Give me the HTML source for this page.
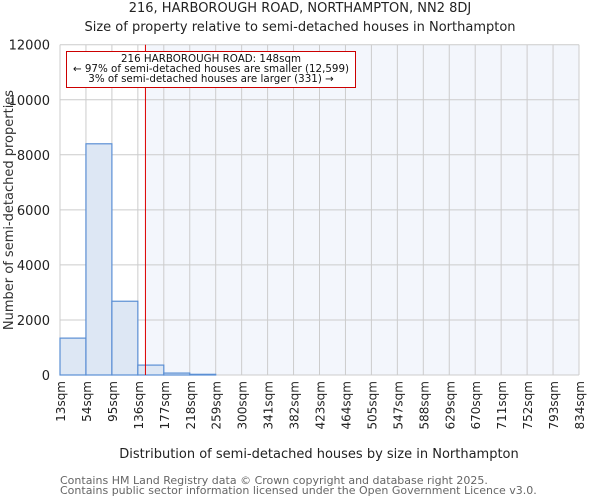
<!DOCTYPE html>
<html><head><meta charset="utf-8"><style>
body{margin:0;background:#fff;font-family:"DejaVu Sans","Liberation Sans",sans-serif;}
</style></head><body>
<svg width="600" height="500" viewBox="0 0 600 500" xmlns="http://www.w3.org/2000/svg" font-family="DejaVu Sans, Liberation Sans, sans-serif">
<g id="g"></g>
</svg>
<script>
const edges=[13,54,95,136,177,218,259,300,341,382,423,464,505,547,588,629,670,711,752,793,834];
const counts=[1340,8400,2680,360,70,25,0,0,0,0,0,0,0,0,0,0,0,0,0,0];
const yTicks=[0,2000,4000,6000,8000,10000,12000];
const propSize=148;
const NS='http://www.w3.org/2000/svg';
const g=document.getElementById('g');
const L=60,R=579,T=44.7,B=375,yMax=12000;
const xs=i=>L+(R-L)*i/(edges.length-1);
const xv=v=>{for(let i=0;i<edges.length-1;i++){if(v<=edges[i+1])return xs(i)+(v-edges[i])/(edges[i+1]-edges[i])*(xs(i+1)-xs(i));}return R;};
const y=v=>B-(B-T)*v/yMax;
function el(t,a,txt){const e=document.createElementNS(NS,t);for(const k in a)e.setAttribute(k,a[k]);if(txt!=null)e.textContent=txt;g.appendChild(e);return e;}
let e;
e=el('rect',{x:L,y:T,width:R-L,height:B-T,fill:'#fff'});

const px=xv(propSize);
e=el('rect',{x:px,y:T,width:R-px,height:B-T,fill:'#f3f6fc'});

yTicks.forEach(t=>{e=el('line',{x1:L,x2:R,y1:y(t),y2:y(t),stroke:'#cccccc','stroke-width':1});

e=el('text',{x:L-10,y:y(t)+5,'text-anchor':'end','font-size':13,fill:'#222'},t);
});
edges.forEach((v,i)=>{e=el('line',{x1:xs(i),x2:xs(i),y1:T,y2:B,stroke:'#cccccc','stroke-width':1});

e=el('text',{transform:`translate(${xs(i)+5},381) rotate(-90)`,'text-anchor':'end','font-size':12,fill:'#222'},v+'sqm');
});
counts.forEach((c,i)=>{if(c<=0)return;const x0=xs(i),x1=xs(i+1);
e=el('rect',{x:x0,y:y(c),width:x1-x0,height:B-y(c),fill:'#dde7f4',stroke:'#5b8fd4','stroke-width':1.2});
});
e=el('line',{x1:px,x2:px,y1:T,y2:B,stroke:'#dd0000','stroke-width':1});

e=el('rect',{x:66.5,y:51.5,width:289,height:36,fill:'#fff',stroke:'#cc0000','stroke-width':1});

[['216 HARBOROUGH ROAD: 148sqm',62],['← 97% of semi-detached houses are smaller (12,599)',72],['3% of semi-detached houses are larger (331) →',82]].forEach(a=>{
e=el('text',{x:211,y:a[1],'text-anchor':'middle','font-size':10.3,fill:'#111'},a[0]);
});
e=el('text',{x:300,y:12,'text-anchor':'middle','font-size':13,fill:'#222'},'216, HARBOROUGH ROAD, NORTHAMPTON, NN2 8DJ');

e=el('text',{x:300,y:31,'text-anchor':'middle','font-size':13,fill:'#222'},'Size of property relative to semi-detached houses in Northampton');

e=el('text',{transform:'translate(13,210) rotate(-90)','text-anchor':'middle','font-size':13,fill:'#333'},'Number of semi-detached properties');

e=el('text',{x:319,y:458,'text-anchor':'middle','font-size':13,fill:'#222'},'Distribution of semi-detached houses by size in Northampton');

e=el('text',{x:60,y:484,'font-size':11,fill:'#666'},'Contains HM Land Registry data © Crown copyright and database right 2025.');

e=el('text',{x:60,y:494,'font-size':11,fill:'#666'},'Contains public sector information licensed under the Open Government Licence v3.0.');

</script>
</body></html>
